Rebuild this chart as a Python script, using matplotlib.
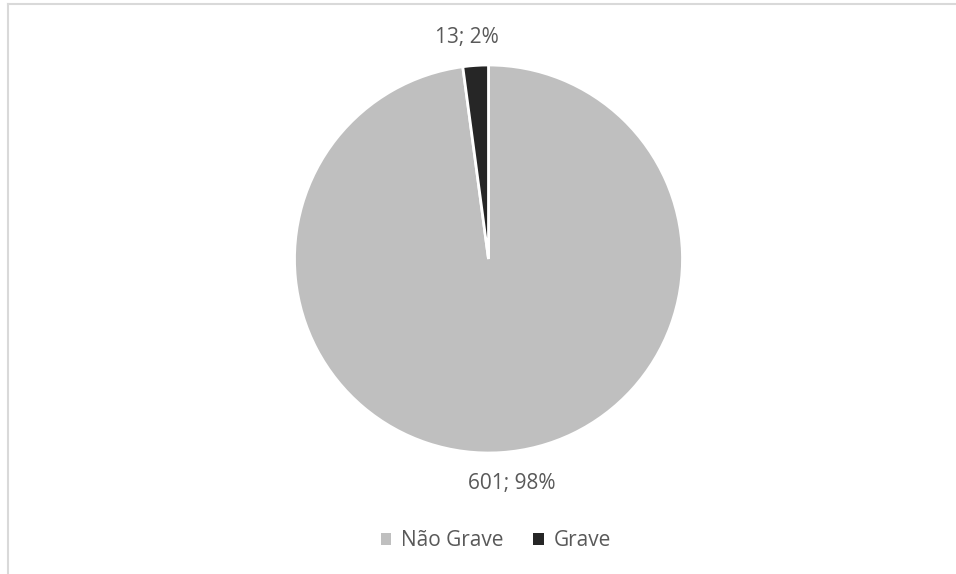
import matplotlib.pyplot as plt
from matplotlib.lines import Line2D
from matplotlib.patches import Patch

labels = ["Não Grave", "Grave"]
counts = [601, 13]
colors = ["#BFBFBF", "#262626"]

plt.rcParams['font.family'] = ['Open Sans', 'DejaVu Sans']

fig = plt.figure(figsize=(9.56, 5.74), dpi=100)
W, H = 956, 574

# chart frame: light grey border on the left and top (rest is cropped)
fig.add_artist(Line2D([7.5 / W, 7.5 / W], [0, 1 - 3.5 / H], transform=fig.transFigure,
                      color="#D9D9D9", linewidth=1.5))
fig.add_artist(Line2D([7.5 / W, 1], [1 - 3.5 / H, 1 - 3.5 / H], transform=fig.transFigure,
                      color="#D9D9D9", linewidth=1.5))

# pie centred at (488, 259) px, radius ~194 px
cx, cy, r = 488.5, 259, 194
ax = fig.add_axes([(cx - r) / W, (H - cy - r) / H, 2 * r / W, 2 * r / H])
ax.pie(counts, colors=colors, startangle=90, counterclock=False,
       wedgeprops=dict(edgecolor="white", linewidth=2))
ax.set_aspect("equal")
ax.set_xlim(-1, 1)
ax.set_ylim(-1, 1)

total = sum(counts)
pcts = [round(100 * c / total) for c in counts]
fig.text(512 / W, 1 - 483 / H, f"{counts[0]}; {pcts[0]}%", ha="center", va="center",
         fontsize=15, color="#595959")
fig.text(467 / W, 1 - 38 / H, f"{counts[1]}; {pcts[1]}%", ha="center", va="center",
         fontsize=15, color="#595959")

handles = [Patch(facecolor=c, edgecolor="none") for c in colors]
fig.legend(handles, labels, loc="center", bbox_to_anchor=(496 / W, 1 - 541 / H),
           ncol=2, frameon=False, fontsize=15, labelcolor="#595959",
           handlelength=0.5, handleheight=0.5, handletextpad=0.5, columnspacing=1.4)

fig.savefig("out.png", dpi=100)
